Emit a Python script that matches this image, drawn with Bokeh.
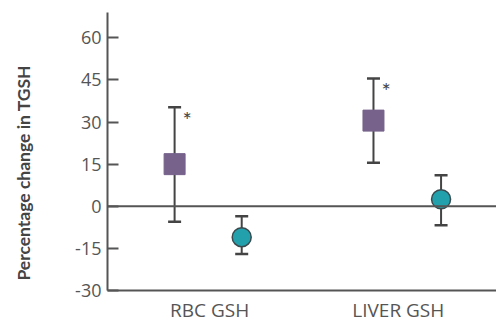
from bokeh.plotting import figure
from bokeh.models import Range1d, Whisker, ColumnDataSource, FixedTicker, Span
from bokeh.embed import file_html
from bokeh.resources import INLINE
from bokeh.core.properties import value

# Data
categories = ["RBC GSH", "LIVER GSH"]
category_pos = [1.05, 2.99]
treated_x = [0.69, 2.735]
treated_mean = [15, 30.5]
treated_lower = [-5.5, 15.5]
treated_upper = [35.3, 45.5]
control_x = [1.38, 3.43]
control_mean = [-11, 2.5]
control_lower = [-17, -6.8]
control_upper = [-3.6, 11]
star_labels = ["*", "*"]
y_ticks = [-30, -15, 0, 15, 30, 45, 60]
y_tick_labels = ["-30", "-15", "0", "15", "30", "45", "60"]

FONT = "Open Sans"
GREY = "#555555"
PURPLE = "#76628b"
TEAL = "#22a0ab"
ERR = "#444444"

p = figure(width=496, height=325, output_backend="svg", toolbar_location=None,
           x_range=Range1d(0, 4), y_range=Range1d(-30, 69),
           min_border_left=107, min_border_right=0, min_border_top=12, min_border_bottom=35)
p.outline_line_color = None
p.grid.visible = False
p.background_fill_color = "white"

# axes
p.yaxis.ticker = FixedTicker(ticks=y_ticks)
p.yaxis.major_label_overrides = {t: s for t, s in zip(y_ticks, y_tick_labels)}
p.yaxis.major_tick_in = 11
p.yaxis.major_tick_out = 0
p.yaxis.minor_tick_line_color = None
p.yaxis.minor_tick_out = 0
p.yaxis.axis_line_color = GREY
p.yaxis.axis_line_width = 2
p.yaxis.major_tick_line_color = GREY
p.yaxis.major_tick_line_width = 2
p.yaxis.major_label_text_font = FONT
p.yaxis.major_label_text_font_size = "18px"
p.yaxis.major_label_text_color = GREY
p.yaxis.major_label_standoff = 6
p.yaxis.axis_label = "Percentage change in TGSH" + "\u00a0" * 10
p.yaxis.axis_label_text_font = "Lato"
p.yaxis.axis_label_text_font_style = "bold"
p.yaxis.axis_label_text_font_size = "17.5px"
p.yaxis.axis_label_text_color = "#444444"
p.yaxis.axis_label_standoff = 38

p.xaxis.ticker = FixedTicker(ticks=category_pos)
p.xaxis.major_label_overrides = {pos: lab for pos, lab in zip(category_pos, categories)}
p.xaxis.major_tick_line_color = None
p.xaxis.major_tick_in = 0
p.xaxis.major_tick_out = 0
p.xaxis.minor_tick_line_color = None
p.xaxis.minor_tick_in = 0
p.xaxis.minor_tick_out = 0
p.xaxis.axis_line_color = GREY
p.xaxis.axis_line_width = 2
p.xaxis.major_label_text_font = FONT
p.xaxis.major_label_text_font_size = "19px"
p.xaxis.major_label_text_color = GREY
p.xaxis.major_label_standoff = 6

# zero line
p.add_layout(Span(location=0, dimension="width", line_color=GREY, line_width=2))

# error bars
for xs, lo, hi in [(treated_x, treated_lower, treated_upper), (control_x, control_lower, control_upper)]:
    src = ColumnDataSource(dict(x=xs, lower=lo, upper=hi))
    w = Whisker(source=src, base="x", lower="lower", upper="upper", dimension="height",
                line_color=ERR, line_width=2)
    w.upper_head.size = 13
    w.lower_head.size = 13
    w.upper_head.line_color = ERR
    w.lower_head.line_color = ERR
    w.upper_head.line_width = 2.5
    w.lower_head.line_width = 2.5
    p.add_layout(w)

p.scatter(treated_x, treated_mean, marker="square", size=21, fill_color=PURPLE, line_color=PURPLE)
p.scatter(control_x, control_mean, marker="circle", size=19, fill_color=TEAL, line_color="#3a4a4f", line_width=1.5)

# significance stars
p.text(treated_x, treated_upper, text=star_labels, x_offset=8, y_offset=12,
       text_font=value("Lato"), text_font_size="22px", text_color=ERR,
       text_align="left", text_baseline="middle")

open("out.html", "w").write(file_html(p, INLINE))
